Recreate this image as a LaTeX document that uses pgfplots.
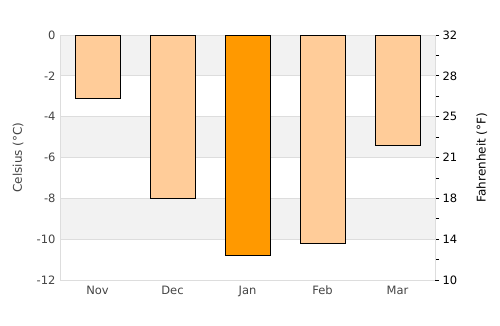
\documentclass[border=0pt]{standalone}
\usepackage{fontspec}
\setmainfont{DejaVu Sans}
\usepackage{pgfplots}
\pgfplotsset{compat=1.18}
\definecolor{barlight}{HTML}{FFCC99}
\definecolor{barhi}{HTML}{FF9900}
\definecolor{band}{HTML}{F2F2F2}
\definecolor{gridc}{HTML}{DDDDDD}
\definecolor{txt}{HTML}{444444}
\begin{document}
\begin{tikzpicture}
\begin{axis}[
  set layers,
  scale only axis, width=375pt, height=245pt,
  at={(0pt,0pt)}, anchor=south west,
  xmin=-0.5, xmax=4.5, ymin=-12, ymax=0,
  xtick={0,1,2,3,4}, xticklabels={Nov,Dec,Jan,Feb,Mar},
  ytick={-12,-10,...,0},
  yticklabels={-12,-10,-8,-6,-4,-2,0},
  major tick length=0pt,
  ymajorgrids, grid style={gridc, line width=0.8pt},
  axis x line*=bottom, axis y line*=left,
  x axis line style={-}, y axis line style={-},
  axis line style={gridc, line width=0.8pt},
  tick label style={font=\fontsize{11.5}{13}\selectfont, text=txt},
  ylabel={Celsius (°C)},
  ylabel style={font=\fontsize{12}{14}\selectfont, text=txt, at={(axis description cs:-0.112,0.5)}, anchor=center},
  yticklabel style={xshift=-1pt},
  xticklabel style={yshift=-2pt, text height=9pt},
]
\addplot[fill=band, draw=none, on layer=axis background, forget plot]
  coordinates {(-0.5,0) (4.5,0) (4.5,-2) (-0.5,-2)} -- cycle;
\addplot[fill=band, draw=none, on layer=axis background, forget plot]
  coordinates {(-0.5,-4) (4.5,-4) (4.5,-6) (-0.5,-6)} -- cycle;
\addplot[fill=band, draw=none, on layer=axis background, forget plot]
  coordinates {(-0.5,-8) (4.5,-8) (4.5,-10) (-0.5,-10)} -- cycle;
\addplot[ybar, bar width=45pt, bar shift=0pt, fill=barlight, draw=black, line width=0.8pt]
  coordinates {(0,-3.1) (1,-8.0) (3,-10.2) (4,-5.4)};
\addplot[ybar, bar width=45pt, bar shift=0pt, fill=barhi, draw=black, line width=0.8pt]
  coordinates {(2,-10.8)};
\node[anchor=east, font=\fontsize{10.5}{12}\selectfont, text=txt] at ([yshift=-32pt]rel axis cs:1,0) {© www.weather2visit.com};
\end{axis}
\begin{axis}[
  scale only axis, width=375pt, height=245pt,
  at={(0pt,0pt)}, anchor=south west,
  xmin=-0.5, xmax=4.5, ymin=-12, ymax=0,
  axis x line=none,
  axis y line*=right,
  y axis line style={-, gridc, line width=0.8pt},
  ytick={-12,-10,...,0},
  yticklabels={10,14,18,21,25,28,32},
  minor ytick={-11,-9,...,-1},
  tick align=outside,
  major tick length=4pt, minor tick length=4pt,
  tick style={black, line width=0.8pt},
  tick label style={font=\fontsize{11.5}{13}\selectfont, text=black},
  ylabel={Fahrenheit (°F)},
  ylabel style={font=\fontsize{12}{14}\selectfont, text=black, at={(axis description cs:1.125,0.5)}, anchor=center},
]
\end{axis}
\pgfresetboundingbox
\useasboundingbox (-60pt,-45pt) rectangle (440pt,280pt);
\end{tikzpicture}
\end{document}
